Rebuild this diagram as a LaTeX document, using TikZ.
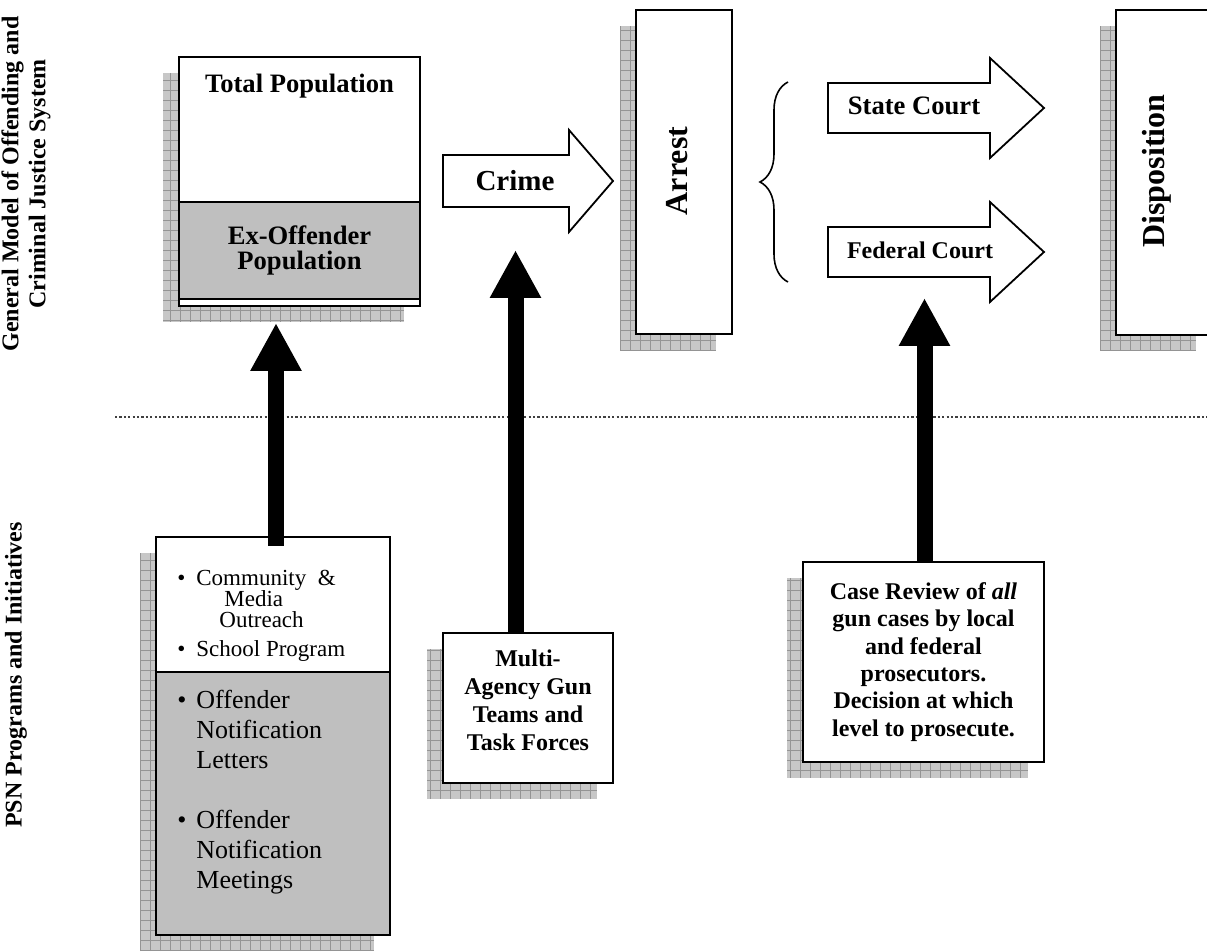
\documentclass[tikz,border=0pt]{standalone}
\usepackage{fontspec}
\setmainfont{Liberation Serif}
\usepackage{graphicx}
\usetikzlibrary{arrows.meta,decorations.pathreplacing}

\begin{document}
\begin{tikzpicture}[x=0.5pt, y=-0.5pt,
  box/.style={draw, line width=1pt, fill=white, align=center, inner sep=0pt},
  graybox/.style={box, fill=black!25},
  shade/.style={fill=black!22},
  shadegrid/.style={draw=black!42, line width=0.35pt, xstep=5pt, ystep=5pt},
  blockarrow/.style={draw, line width=0.9pt, fill=white, line join=miter},
  uparrow/.style={line width=8pt, -{Triangle[width=24pt, length=24pt]}},
  sidelabel/.style={rotate=90, align=center, font=\fontsize{12}{13.5}\selectfont\bfseries},
  divider/.style={line width=0.7pt, black!75, dash pattern=on 1.1pt off 1.1pt}]
  \useasboundingbox (0,0) rectangle (1207,952);

  % shadows behind the boxes
  \foreach \xa/\ya/\xb/\yb in {163/73/404/322, 620/26/716/350, 1100/26/1196/351,
      140/553/374/951, 427/649/597/799, 787/578/1028/778} {
    \fill[shade] (\xa,\yb) rectangle (\xb,\ya);
    \draw[shadegrid] (\xa,\yb) grid (\xb,\ya);
  }

  % side labels
  \node[sidelabel] (modellabel) at (26,184) {General Model of Offending and\\Criminal Justice System};
  \node[sidelabel] (psnlabel) at (16,675) {PSN Programs and Initiatives};

  % general model
  \node[box, minimum width=120.5pt, minimum height=124.5pt] (pop) at (299.5,181.5) {};
  \node[font=\fontsize{13.3}{15}\selectfont\bfseries] (poptext) at (299.5,86) {Total Population};
  \node[graybox, minimum width=120.5pt, minimum height=48.5pt,
    font=\fontsize{13.3}{12.5}\selectfont\bfseries] (exoff) at (299.5,250.5) {Ex-Offender\\Population};

  \draw[blockarrow] (443,155) -- (569,155) -- (569,130) -- (613,181) -- (569,232) -- (569,207) -- (443,207) -- cycle;
  \node[font=\fontsize{14.5}{16}\selectfont\bfseries] (crime) at (515,181) {Crime};

  \node[box, minimum width=48pt, minimum height=162pt] (arrest) at (684,172) {};
  \node[rotate=90, font=\fontsize{16}{18}\selectfont\bfseries] (arresttext) at (677,171) {Arrest};

  \coordinate (bracebot) at (788,282);
  \coordinate (bracetop) at (788,82);
  \draw[line width=0.8pt, decorate, decoration={brace, amplitude=14pt}] (bracebot) -- (bracetop);

  \draw[blockarrow] (828,83) -- (990,83) -- (990,58) -- (1044,108) -- (990,158) -- (990,133) -- (828,133) -- cycle;
  \node[font=\fontsize{13.3}{15}\selectfont\bfseries] (state) at (914,106) {State Court};
  \draw[blockarrow] (828,227) -- (990,227) -- (990,202) -- (1044,252) -- (990,302) -- (990,277) -- (828,277) -- cycle;
  \node[font=\fontsize{12}{14}\selectfont\bfseries] (federal) at (920,250) {Federal Court};

  \node[box, minimum width=48pt, minimum height=162.5pt] (dispo) at (1164,172.5) {};
  \node[rotate=90, font=\fontsize{16}{18}\selectfont\bfseries] (dispotext) at (1157,171) {Disposition};

  \draw[divider] (115,417) -- (1207,417);

  % PSN programs
  \node[box, minimum width=117pt, minimum height=67.5pt] (outreach) at (273,604.5) {};
  \node[graybox, minimum width=117pt, minimum height=131.5pt] (notify) at (273,803.5) {};
  \node[anchor=north west, align=left, inner sep=0pt, font=\fontsize{11.5}{10.5}\selectfont] (outreachtext) at (177,570)
    {\makebox[9.5pt][l]{\textbullet}Community \ \&\\
     \hspace*{23.5pt}Media\\
     \hspace*{21pt}Outreach\\[4pt]
     \makebox[9.5pt][l]{\textbullet}School Program};
  \node[anchor=north west, align=left, inner sep=0pt, font=\fontsize{13}{15}\selectfont] (notifytext) at (177,690)
    {\makebox[9.5pt][l]{\textbullet}Offender\\
     \hspace*{9.5pt}Notification\\
     \hspace*{9.5pt}Letters\\[15pt]
     \makebox[9.5pt][l]{\textbullet}Offender\\
     \hspace*{9.5pt}Notification\\
     \hspace*{9.5pt}Meetings};

  \node[box, minimum width=85pt, minimum height=75pt, font=\fontsize{12}{14}\selectfont\bfseries] (gunteams) at (528,708)
    {Multi-\\Agency Gun\\Teams and\\Task Forces\\[-6pt]};
  \node[box, minimum width=120.5pt, minimum height=100pt, font=\fontsize{12}{13.7}\selectfont\bfseries] (review) at (923.5,662)
    {Case Review of \textit{all}\\gun cases by local\\and federal\\prosecutors.\\Decision at which\\level to prosecute.};

  % programs acting on the model
  \coordinate (tip1) at (276,323);
  \coordinate (tip2) at (515.5,250);
  \coordinate (tip3) at (924.5,298);
  \draw[uparrow] ([yshift=-5pt]outreach.north -| tip1) -- (tip1);
  \draw[uparrow] (gunteams.north -| tip2) -- (tip2);
  \draw[uparrow] (review.north -| tip3) -- (tip3);
\end{tikzpicture}
\end{document}
